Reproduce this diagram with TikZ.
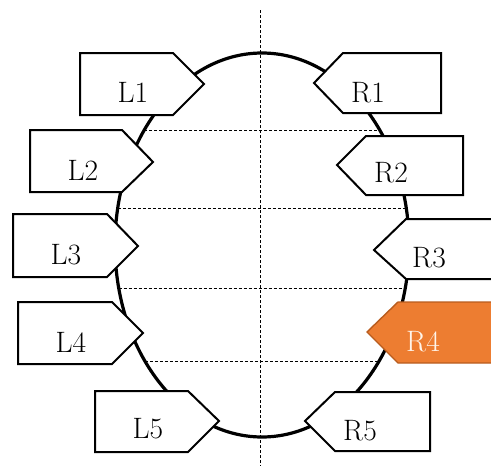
\documentclass[tikz,border=0pt]{standalone}
\begin{document}
\begin{tikzpicture}[x=1pt,y=-1pt,
  guide/.style={draw=black, line width=0.8pt, dash pattern=on 3pt off 2pt},
  rim/.style={draw=black, line width=3.2pt},
  tag/.style={draw=black, line width=2pt, fill=white, line join=miter},
  hot/.style={draw={rgb,255:red,184;green,92;blue,30}, line width=1.4pt, fill={rgb,255:red,237;green,125;blue,49}, line join=miter},
  lbl/.style={font=\fontsize{29.5}{32}\selectfont, text=black, inner sep=0pt},
  hotlbl/.style={lbl, text=white!92!orange}]
\useasboundingbox (0,0) rectangle (491,466);
\clip (0,0) rectangle (491,466);

% centre of the oval and the ends of the guide lines
\coordinate (c) at (262,245);
\coordinate (vtop) at (260,10);
\coordinate (vbot) at (260,466);
\coordinate (h1a) at (144.3,130); \coordinate (h1b) at (379.7,130);
\coordinate (h2a) at (117.8,208); \coordinate (h2b) at (406.2,208);
\coordinate (h3a) at (118.7,288); \coordinate (h3b) at (405.3,288);
\coordinate (h4a) at (144.9,361); \coordinate (h4b) at (379.1,361);

% dashed guides
\draw[guide] (vtop) -- (vbot);
\draw[guide] (h1a) -- (h1b);
\draw[guide] (h2a) -- (h2b);
\draw[guide] (h3a) -- (h3b);
\draw[guide] (h4a) -- (h4b);

% the oval
\draw[rim] (c) ellipse [x radius=147, y radius=192];

% left tags, pointing right
\draw[tag] (80,53) -- (173,53) -- (204,84) -- (173,115) -- (80,115) -- cycle;
\draw[tag] (30,130) -- (122,130) -- (153,162) -- (122,192) -- (30,192) -- cycle;
\draw[tag] (13,214) -- (107,214) -- (138,246) -- (107,277) -- (13,277) -- cycle;
\draw[tag] (18,302) -- (112,302) -- (143,333) -- (112,364) -- (18,364) -- cycle;
\draw[tag] (95,391) -- (188,391) -- (219,421) -- (188,452) -- (95,452) -- cycle;

% right tags, pointing left
\draw[tag] (441,53) -- (343,53) -- (314,83) -- (343,113) -- (441,113) -- cycle;
\draw[tag] (463,136) -- (366,136) -- (337,165) -- (366,195) -- (463,195) -- cycle;
\draw[tag] (500,219) -- (406,219) -- (374,250) -- (406,279) -- (500,279) -- cycle;
\draw[hot] (500,302) -- (398,302) -- (367,332) -- (398,363) -- (500,363) -- cycle;
\draw[tag] (430,392) -- (335,392) -- (305,421) -- (335,451) -- (430,451) -- cycle;

% labels
\node[lbl] (L1) at (133,92) {L1};
\node[lbl] (L2) at (83,170) {L2};
\node[lbl] (L3) at (66,255) {L3};
\node[lbl] (L4) at (71,342) {L4};
\node[lbl] (L5) at (148,429) {L5};
\node[lbl] (R1) at (368,93) {R1};
\node[lbl] (R2) at (391,173) {R2};
\node[lbl] (R3) at (429,258) {R3};
\node[hotlbl] (R4) at (423,342) {R4};
\node[lbl] (R5) at (360,431) {R5};
\end{tikzpicture}
\end{document}
